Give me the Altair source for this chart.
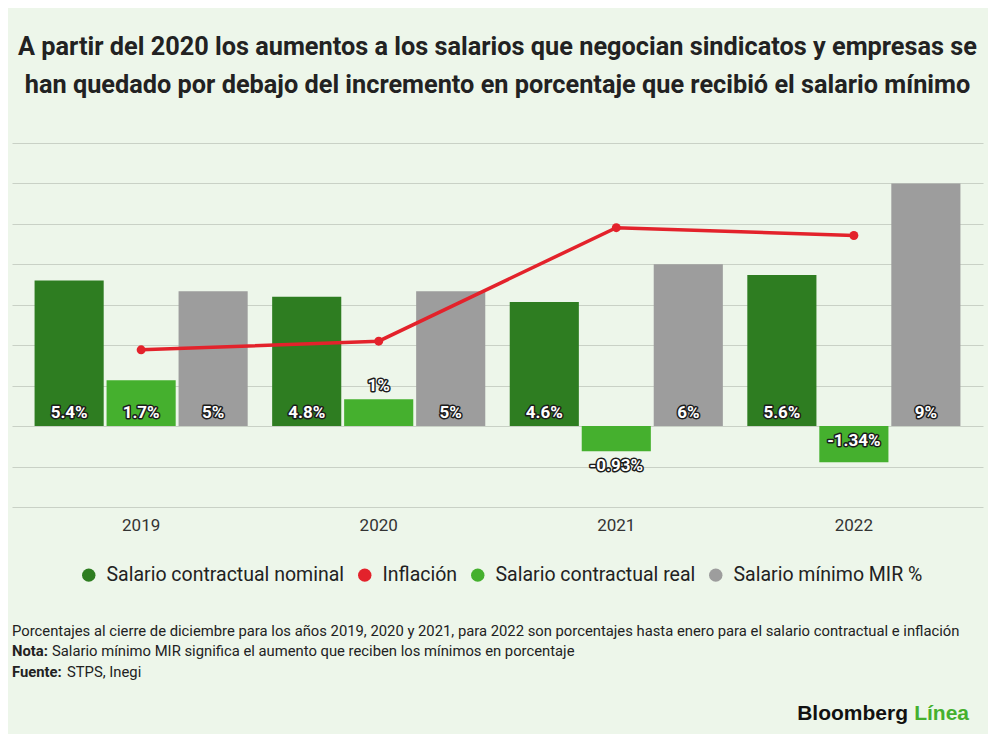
import altair as alt
import pandas as pd

# ---------------- data ----------------
years = ["2019", "2020", "2021", "2022"]
series_names = ["Salario contractual nominal", "Inflación",
                "Salario contractual real", "Salario mínimo MIR %"]
bar_series = ["Salario contractual nominal", "Salario contractual real",
              "Salario mínimo MIR %"]
nominal = [5.4, 4.8, 4.6, 5.6]
real = [1.7, 1.0, -0.93, -1.34]
minimo = [5, 5, 6, 9]
inflacion = [2.83, 3.15, 7.36, 7.07]
label_nominal = ["5.4%", "4.8%", "4.6%", "5.6%"]
label_real = ["1.7%", "1%", "-0.93%", "-1.34%"]
label_minimo = ["5%", "5%", "6%", "9%"]
colors = ["#2e7d21", "#e3222b", "#45b02e", "#9d9d9d"]
grid_values = [-3, -1.5, 0, 1.5, 3, 4.5, 6, 7.5, 9, 10.5]

title_lines = [
    "A partir del 2020 los aumentos a los salarios que negocian sindicatos y empresas se",
    "han quedado por debajo del incremento en porcentaje que recibió el salario mínimo",
]
note_line1 = ["Porcentajes al cierre de diciembre para los años 2019, 2020 y 2021, para 2022 son porcentajes hasta enero para el salario contractual e inflación"]
note_bold = ["Nota:"]
note_rest = ["Salario mínimo MIR significa el aumento que reciben los mínimos en porcentaje"]
src_bold = ["Fuente:"]
src_rest = ["STPS, Inegi"]
logo_a = ["Bloomberg"]
logo_b = ["Línea"]

# ---------------- tables ----------------
rows = []
for s, vals, labs in [(bar_series[0], nominal, label_nominal),
                      (bar_series[1], real, label_real),
                      (bar_series[2], minimo, label_minimo)]:
    for y, v, l in zip(years, vals, labs):
        if v >= 1.5:
            anc, d = 0, "up"
        elif v > 0:
            anc, d = v, "up"
        elif v > -1:
            anc, d = v, "down"
        else:
            anc, d = 0, "down"
        rows.append({"year": y, "serie": s, "valor": v, "etiqueta": l,
                     "ancla": anc, "dir": d})
bars_df = pd.DataFrame(rows)
line_df = pd.DataFrame({"year": years, "valor": inflacion})

FONT = "Roboto"
ygrid = alt.Scale(domain=[-3, 10.5], nice=False, zero=False)
x_enc = alt.X("year:N", sort=years,
              scale=alt.Scale(paddingInner=0.103, paddingOuter=0.095),
              axis=alt.Axis(title=None, labelFontSize=17, labelColor="#333333",
                            labelFont=FONT, labelPadding=10, domain=False,
                            ticks=False, labelAngle=0))
xoff = alt.XOffset("serie:N", sort=bar_series,
                   scale=alt.Scale(domain=bar_series, paddingInner=0.04))
y_axis = alt.Axis(title=None, values=grid_values, labels=False, ticks=False,
                  domain=False, grid=True, gridColor="#c9d1c6", gridWidth=1)

base = alt.Chart(bars_df)

bars = base.mark_bar().encode(
    x=x_enc,
    xOffset=xoff,
    y=alt.Y("valor:Q", scale=ygrid, axis=y_axis),
    color=alt.Color("serie:N",
                    scale=alt.Scale(domain=series_names, range=colors),
                    legend=alt.Legend(title=None, orient="none",
                                      legendX=67, legendY=422,
                                      direction="horizontal",
                                      symbolType="circle", symbolSize=180,
                                      labelFontSize=19.5, labelFont=FONT,
                                      labelColor="#222222", labelLimit=400,
                                      columnPadding=10, labelOffset=8)),
)

line = alt.Chart(line_df).mark_line(strokeWidth=3.5).encode(
    x=alt.X("year:N", sort=years),
    y=alt.Y("valor:Q", scale=ygrid),
    color=alt.value(colors[1]),
)
pts = alt.Chart(line_df).mark_point(filled=True, size=80, opacity=1).encode(
    x=alt.X("year:N", sort=years),
    y=alt.Y("valor:Q", scale=ygrid),
    color=alt.value(colors[1]),
)


def labels(direction, dy):
    outline = base.transform_filter(alt.datum.dir == direction).mark_text(
        fontSize=17, font=FONT, fontWeight="bold", dy=dy, baseline="middle",
        stroke="#1c1c1c", strokeWidth=3, strokeJoin="round", color="#1c1c1c",
    ).encode(x=alt.X("year:N", sort=years), xOffset=xoff,
             y=alt.Y("ancla:Q", scale=ygrid), text="etiqueta:N")
    fill = base.transform_filter(alt.datum.dir == direction).mark_text(
        fontSize=17, font=FONT, fontWeight="bold", dy=dy, baseline="middle",
        color="white",
    ).encode(x=alt.X("year:N", sort=years), xOffset=xoff,
             y=alt.Y("ancla:Q", scale=ygrid), text="etiqueta:N")
    return [outline, fill]


def note(texts, x, y, bold=False, size=14.8, color="#222222", align="left", font=FONT):
    return alt.Chart(pd.DataFrame({"t": texts})).mark_text(
        align=align, baseline="middle", fontSize=size, font=font,
        fontWeight="bold" if bold else "normal", color=color,
    ).encode(x=alt.value(x), y=alt.value(y), text="t:N")


layers = [bars, line, pts] + labels("up", -13) + labels("down", 15) + [
    note(note_line1, 0, 489),
    note(note_bold, 0, 509, bold=True),
    note(note_rest, 40, 509),
    note(src_bold, 0, 530, bold=True),
    note(src_rest, 55, 530),
    note(logo_a, 896, 571, bold=True, size=21, color="#111111",
         align="right", font="Liberation Sans"),
    note(logo_b, 957, 571, bold=True, size=21, color="#45b02e",
         align="right", font="Liberation Sans"),
]

chart = alt.layer(*layers).properties(
    width=971, height=364,
    title=alt.TitleParams(text=title_lines, fontSize=25.3, font=FONT,
                          fontWeight="bold", color="#222222", anchor="middle",
                          lineHeight=38, offset=45),
    padding={"left": 4, "right": 5, "top": 26, "bottom": 10},
).configure(
    background="#edf6ea",
).configure_view(stroke=None)

chart.save("out.html", embed_options={"renderer": "svg", "actions": False})
